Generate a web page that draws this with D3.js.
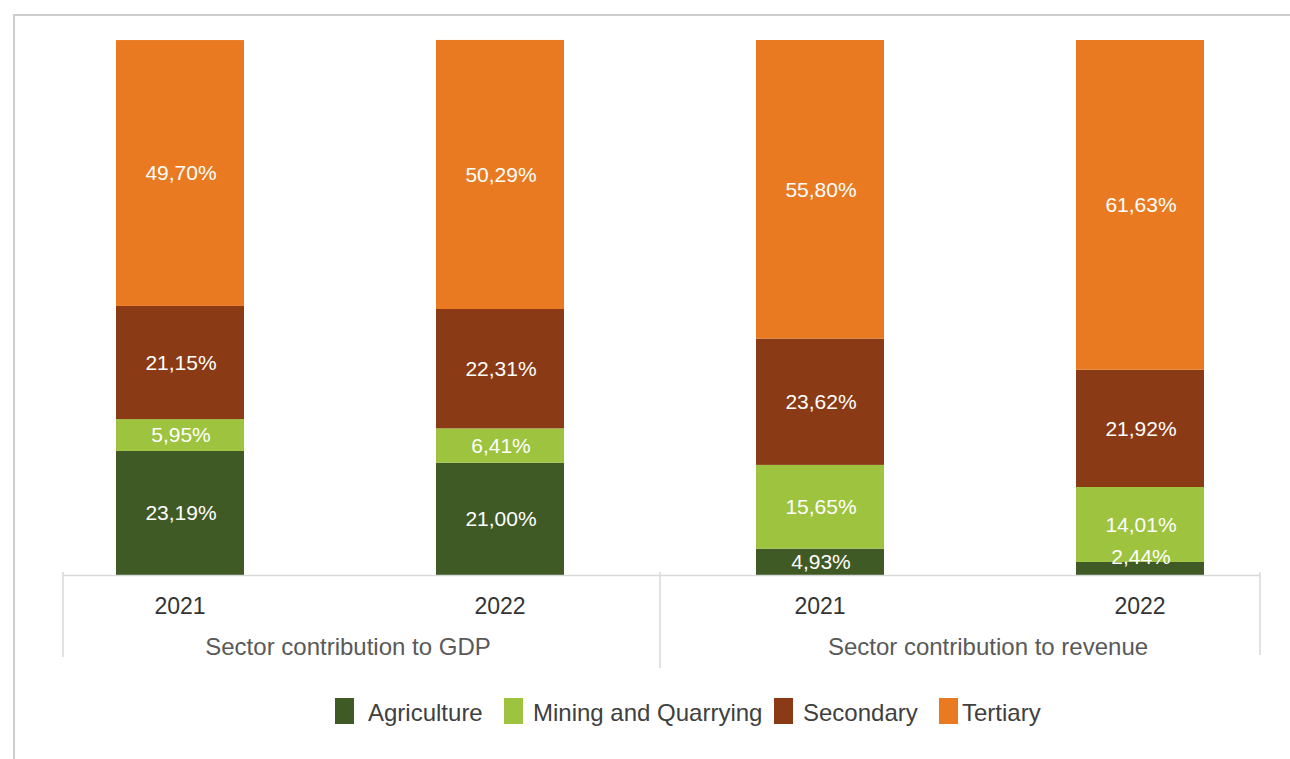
<!DOCTYPE html>
<html>
<head>
<meta charset="utf-8">
<script src="https://cdn.jsdelivr.net/npm/d3@7"></script>
<style>
  html, body { margin: 0; padding: 0; background: #fff; }
  svg { display: block; font-family: "Liberation Sans", Arial, sans-serif; }
</style>
</head>
<body>
<svg id="chart" width="1290" height="759"></svg>
<script>
// Sector shares (%) for each year, split into GDP and revenue groups
const groups = ["Sector contribution to GDP", "Sector contribution to revenue"];
const years = ["2021", "2022", "2021", "2022"];
const groupOf = [0, 0, 1, 1];
const sectors = ["Agriculture", "Mining and Quarrying", "Secondary", "Tertiary"];
const agriculture = [23.19, 21.00, 4.93, 2.44];
const mining = [5.95, 6.41, 15.65, 14.01];
const secondary = [21.15, 22.31, 23.62, 21.92];
const tertiary = [49.70, 50.29, 55.80, 61.63];
const colors = ["#3f5a25", "#9dc33f", "#8a3a14", "#e97a21"];

const rows = years.map((yr, i) => ({
  id: "c" + i,
  year: yr,
  group: groupOf[i],
  "Agriculture": agriculture[i],
  "Mining and Quarrying": mining[i],
  "Secondary": secondary[i],
  "Tertiary": tertiary[i]
}));

const svg = d3.select("#chart");

// outer frame (top and left edges)
svg.append("line").attr("x1", 14).attr("x2", 1290).attr("y1", 15).attr("y2", 15)
  .attr("stroke", "#cfcfcf").attr("stroke-width", 2);
svg.append("line").attr("x1", 14).attr("x2", 14).attr("y1", 14).attr("y2", 759)
  .attr("stroke", "#cfcfcf").attr("stroke-width", 2);

const x = d3.scaleBand()
  .domain(rows.map(d => d.id))
  .range([20, 1300])
  .paddingInner(0.6)
  .paddingOuter(0.3);

const y = d3.scaleLinear().domain([0, 100]).range([575, 40]);

const color = d3.scaleOrdinal().domain(sectors).range(colors);

const stacked = d3.stack().keys(sectors)(rows);

const fmt = v => d3.format(".2f")(v).replace(".", ",");

const layers = svg.append("g").selectAll("g")
  .data(stacked)
  .join("g")
  .attr("fill", d => color(d.key));

layers.selectAll("rect")
  .data(d => d)
  .join("rect")
  .attr("x", d => x(d.data.id))
  .attr("width", x.bandwidth())
  .attr("y", d => y(d[1]))
  .attr("height", d => y(d[0]) - y(d[1]));

// value labels centred in each segment
const labels = svg.append("g");
stacked.forEach(layer => {
  layer.forEach(d => {
    const top = y(d[1]), bot = y(d[0]);
    let cy = (top + bot) / 2;
    if (bot - top < 20) cy = y(0) - 18;
    labels.append("text")
      .attr("x", x(d.data.id) + x.bandwidth() / 2 + 1)
      .attr("y", cy)
      .attr("dy", "0.35em")
      .attr("text-anchor", "middle")
      .attr("fill", "#ffffff")
      .attr("font-size", 21)
      .text(fmt(d[1] - d[0]) + "%");
  });
});

// category axis with two levels
const axis = svg.append("g");
const axisColor = "#d9d9d9";
axis.append("line").attr("x1", 63).attr("x2", 1260).attr("y1", 575.5).attr("y2", 575.5)
  .attr("stroke", axisColor).attr("stroke-width", 1.5);
const divider = (x(rows[1].id) + x.bandwidth() + x(rows[2].id)) / 2;
[[63, 657], [divider, 668], [1260, 655]].forEach(([xx, y2]) => {
  axis.append("line").attr("x1", xx).attr("x2", xx).attr("y1", 572).attr("y2", y2)
    .attr("stroke", axisColor).attr("stroke-width", 1.5);
});

axis.selectAll("text.year")
  .data(rows)
  .join("text")
  .attr("class", "year")
  .attr("x", d => x(d.id) + x.bandwidth() / 2)
  .attr("y", 614)
  .attr("text-anchor", "middle")
  .attr("fill", "#333333")
  .attr("font-size", 23)
  .text(d => d.year);

groups.forEach((g, gi) => {
  const members = rows.filter(r => r.group === gi);
  const cx = d3.mean(members, r => x(r.id) + x.bandwidth() / 2);
  axis.append("text")
    .attr("x", cx + 8)
    .attr("y", 655)
    .attr("text-anchor", "middle")
    .attr("fill", "#595959")
    .attr("font-size", 24)
    .text(g);
});

// legend
const legendX = [335, 504, 774, 939];
const legendGap = [14, 10, 10, 4];
const legend = svg.append("g");
sectors.forEach((s, i) => {
  legend.append("rect")
    .attr("x", legendX[i]).attr("y", 698)
    .attr("width", 19).attr("height", 26)
    .attr("fill", color(s));
  legend.append("text")
    .attr("x", legendX[i] + 19 + legendGap[i])
    .attr("y", 721)
    .attr("fill", "#404040")
    .attr("font-size", 24)
    .text(s);
});
</script>
</body>
</html>
